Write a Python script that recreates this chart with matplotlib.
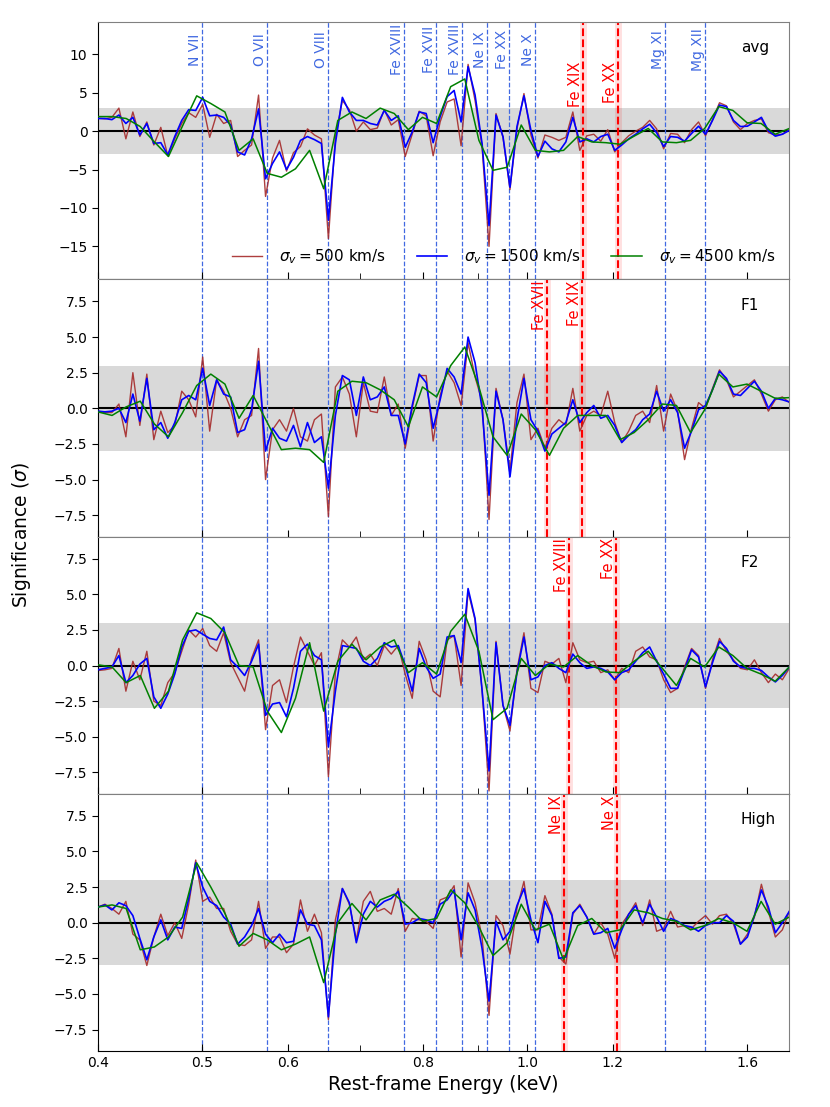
import numpy as np
import matplotlib
matplotlib.use("Agg")
import matplotlib.pyplot as plt
from matplotlib.ticker import NullFormatter, FixedLocator

# energy grids (keV), log-spaced like the spectrum bins
energy_fine = np.geomspace(0.4, 1.75, 100)
energy_coarse = np.geomspace(0.4, 1.75, 50)

# ---- avg ----
avg_500 = [1.7, 1.6, 1.8, 3.0, -1.0, 2.5, -0.7, 1.2, -1.8, 0.5,
           -3.2, -1.0, 1.0, 2.4, 1.8, 3.5, -0.8, 2.2, 1.0, 1.4,
           -3.3, -2.5, -1.8, 4.7, -8.5, -3.5, -1.2, -5.2, -2.8, -2.0,
           0.3, -0.5, -1.0, -14.0, -0.8, 4.0, 2.8, 0.0, 1.2, 0.2,
           0.4, 2.8, 0.8, 1.5, -3.3, -0.4, 2.6, 2.0, -3.2, 1.2,
           3.8, 4.2, -1.9, 8.7, 4.0, -2.0, -15.0, 2.3, -0.8, -7.6,
           0.3, 4.9, -0.5, -3.5, -0.5, -0.8, -1.2, -0.8, 2.5, -2.5,
           -0.6, -0.4, -1.3, 0.2, -2.7, -1.5, -0.6, 0.0, 0.5, 1.4,
           0.3, -2.3, -0.3, -0.4, -1.5, 0.2, 1.2, -0.6, 1.5, 3.7,
           3.3, 1.2, 0.2, 1.0, 1.4, 1.6, -0.2, -0.5, -0.4, 0.2]
avg_1500 = [1.65, 1.65, 1.5, 2.1, 1.0, 1.8, -0.5, 1.0, -1.6, -1.5,
            -3.1, -0.7, 1.4, 2.8, 2.7, 4.4, 2.0, 2.1, 1.8, 0.8,
            -2.7, -3.1, -1.0, 2.9, -6.2, -4.2, -2.7, -5.0, -3.4, -1.2,
            -0.7, -1.1, -1.6, -11.6, -1.6, 4.4, 2.5, 1.4, 1.4, 1.0,
            0.8, 2.7, 1.4, 2.0, -2.1, -0.1, 2.5, 2.3, -1.5, 1.9,
            4.5, 5.3, 1.2, 8.4, 4.7, -1.6, -12.3, 2.1, -0.7, -7.3,
            0.6, 4.6, 0.1, -3.3, -1.3, -2.3, -2.7, -1.4, 1.8, -1.4,
            -1.0, -1.4, -0.7, -0.4, -2.5, -1.8, -1.0, -0.4, 0.3, 0.9,
            -0.2, -2.0, -0.7, -0.8, -1.3, -0.3, 0.65, -0.4, 1.4, 3.4,
            3.2, 1.4, 0.6, 0.65, 1.2, 1.8, 0.05, -0.65, -0.4, 0.1]
avg_4500 = [1.9, 1.9, 1.65, 0.6, -1.4, -3.3, 0.7, 4.6, 3.6, 2.5,
            -2.5, -1.0, -5.5, -6.0, -4.9, -2.5, -7.5, 1.4, 2.5, 1.65,
            3.0, 2.3, 0.2, 1.8, 1.0, 5.8, 6.8, -1.2, -5.1, -4.7,
            0.8, -2.5, -2.7, -2.5, -0.7, -1.4, -1.5, -1.7, -0.65, 0.35,
            -1.4, -1.5, -1.2, 0.35, 3.2, 2.7, 1.1, 1.0, -0.4, 0.35]

# ---- F1 ----
f1_500 = [-0.2, -0.3, -0.3, 0.3, -2.0, 2.5, -1.2, 2.4, -2.2, -0.2,
          -1.7, -1.2, 1.2, 0.6, -0.6, 3.6, -1.6, 2.0, 1.2, 0.0,
          -2.0, -0.8, -0.5, 4.2, -5.0, -1.5, -0.8, -1.6, 0.0, -2.0,
          -2.3, -0.8, -0.4, -7.6, 1.5, 2.2, 1.0, -2.0, 1.8, -0.2,
          -0.3, 2.2, -0.5, 0.3, -2.8, 0.0, 2.3, 2.3, -2.3, 0.9,
          2.6, 1.8, 0.2, 4.6, 2.2, 0.5, -7.8, 1.4, -0.8, -4.4,
          0.4, 2.4, -2.2, -1.4, -2.8, -1.4, -0.8, -1.2, 1.4, -1.6,
          -0.5, -0.2, -0.5, 1.2, -1.0, -2.4, -1.6, -0.5, -0.2, -1.0,
          1.6, -1.6, 1.0, -0.2, -3.6, -1.4, 0.4, 0.0, 1.4, 2.7,
          2.0, 0.8, 1.2, 1.6, 2.0, 1.0, -0.2, 0.6, 0.8, 0.4]
f1_1500 = [-0.2, -0.25, -0.2, 0.0, -1.0, 1.0, -0.9, 2.1, -1.5, -1.0,
           -2.1, -1.0, 0.6, 0.9, 0.6, 2.8, 0.2, 2.0, 1.0, 0.8,
           -1.7, -1.5, -0.1, 3.3, -3.0, -1.4, -2.1, -2.3, -1.2, -2.7,
           -1.0, -2.4, -2.0, -5.6, -0.5, 2.3, 2.0, -0.5, 2.2, 0.6,
           0.8, 1.5, -0.5, -0.5, -2.5, 0.2, 2.4, 1.8, -1.4, 0.6,
           2.8, 2.2, 1.0, 5.0, 3.2, 0.0, -6.1, 1.2, -0.8, -4.8,
           -0.8, 2.1, -0.8, -1.6, -3.0, -1.8, -1.4, -1.0, 0.6, -1.0,
           -0.3, 0.2, -0.7, -0.5, -1.2, -2.4, -1.9, -1.5, -0.8, -0.4,
           1.2, -0.2, 0.6, -0.3, -2.8, -1.6, -0.1, 0.2, 1.3, 2.6,
           2.1, 1.0, 0.9, 1.4, 1.9, 1.2, 0.0, 0.7, 0.6, 0.45]
f1_4500 = [-0.25, -0.5, 0.1, 0.5, -1.1, -2.0, -0.3, 1.6, 2.4, 1.7,
           -0.7, 0.9, -1.0, -2.9, -2.8, -2.9, -3.8, 1.2, 1.9, 1.8,
           1.3, 0.6, -1.3, 1.5, 0.8, 3.0, 4.3, 1.5, -2.0, -3.3,
           -0.4, -1.5, -3.3, -1.4, -0.5, -0.5, -0.5, -2.2, -1.7, -0.8,
           0.3, 0.2, -1.7, -0.1, 2.4, 1.5, 1.7, 1.2, 0.7, 0.75]

# ---- F2 ----
f2_500 = [-0.35, -0.3, -0.2, 1.2, -1.8, 0.3, -1.0, 1.0, -2.5, -2.8,
          -1.2, -0.5, 1.0, 2.5, 2.0, 2.6, 1.4, 1.0, 2.3, 0.2,
          -0.8, -1.8, 0.5, 1.8, -4.5, -1.4, -1.0, -2.6, -0.1, 2.0,
          1.0, 0.0, 0.9, -7.8, -0.5, 1.8, 1.3, 2.0, 0.4, 0.8,
          0.0, 1.4, 0.8, 1.4, -0.6, -2.3, 1.7, 0.4, -1.8, -2.2,
          1.8, 2.1, -1.4, 5.2, 3.2, -1.7, -8.8, 1.7, -2.8, -4.6,
          -0.3, 2.3, -1.6, -1.9, 0.3, 0.1, 0.5, -1.2, 1.6, 0.4,
          0.2, 0.3, -0.5, -0.3, -1.0, -0.2, -0.5, 1.0, 1.3, 0.6,
          0.4, -1.0, -1.9, -1.6, -0.1, 1.2, 0.7, -1.6, 0.4, 1.9,
          1.0, 0.4, -0.2, -0.3, 0.4, -0.5, -1.2, -0.6, -1.0, -0.2]
f2_1500 = [-0.3, -0.2, -0.1, 0.7, -1.2, -0.7, 0.1, 0.5, -2.2, -3.0,
           -2.0, -0.6, 1.3, 2.4, 2.5, 2.2, 1.9, 1.8, 2.7, 0.4,
           -0.1, -0.7, 0.3, 1.5, -3.5, -2.7, -2.6, -3.6, -1.6, 1.0,
           1.5, 0.7, 0.4, -5.7, -1.8, 1.4, 1.3, 1.2, 0.3, 0.0,
           0.5, 1.6, 1.3, 1.4, 0.0, -1.8, 1.2, -0.1, -0.9, -0.6,
           2.0, 2.1, 0.2, 5.4, 3.3, -1.7, -7.4, 1.6, -2.8, -4.2,
           -0.5, 2.0, -1.0, -0.8, 0.0, 0.2, -0.2, -0.5, 0.8, 0.2,
           -0.2, -0.1, -0.2, -0.45, -1.0, -0.5, -0.3, 0.3, 0.9, 1.3,
           0.3, -0.6, -1.6, -1.6, -0.3, 1.1, 0.6, -1.5, 0.2, 1.7,
           1.2, 0.3, -0.1, -0.2, -0.2, -0.35, -0.8, -1.15, -0.7, -0.1]
f2_4500 = [0.05, -0.1, -1.2, -0.7, -3.0, -1.8, 1.8, 3.7, 3.3, 2.3,
           0.0, -0.1, -3.2, -4.7, -2.3, 1.6, -3.2, 0.3, 1.5, 0.4,
           1.3, 1.8, -0.5, 0.2, -0.6, 2.4, 3.6, 1.0, -3.8, -3.0,
           0.5, -0.7, 0.1, -0.1, 0.7, 0.0, -0.45, -0.5, 0.3, 1.0,
           -0.2, -1.4, 0.5, -0.1, 1.3, 0.7, -0.2, -0.6, -1.1, -0.1]

# ---- High ----
high_500 = [1.1, 1.3, 1.0, 0.6, 1.5, -0.8, -1.2, -3.0, -1.0, 0.6,
            -0.9, 0.0, -1.1, 1.3, 4.4, 1.5, 1.8, 1.0, 1.0, -0.6,
            -1.5, -1.6, -1.2, 1.5, -1.8, -1.0, -1.0, -2.1, -1.5, 1.6,
            -0.6, 0.6, -0.7, -6.8, 0.2, 2.4, 1.3, -1.2, 1.5, 2.2,
            0.8, 1.0, 0.6, 2.4, -0.6, 0.3, 0.2, 0.1, -0.4, 1.6,
            1.8, 2.6, -2.4, 2.8, 1.4, -1.0, -6.5, 0.5, -0.2, -2.2,
            1.0, 2.9, -0.5, -0.5, 1.9, 0.6, -2.4, -2.9, 0.6, 1.3,
            0.4, -0.8, 0.0, -0.8, -2.5, -0.1, 0.6, 1.4, -0.2, 1.6,
            -0.6, -0.4, 0.8, -0.3, -0.2, -0.4, 0.1, 0.5, -0.1, 0.5,
            0.6, -0.1, -1.5, -0.8, 0.4, 2.7, 0.8, -1.0, -0.5, 0.8]
high_1500 = [1.1, 1.25, 0.9, 1.4, 1.2, 0.5, -1.1, -2.6, -1.0, 0.2,
             -1.2, -0.3, -0.4, 1.7, 4.2, 2.5, 1.5, 1.2, 0.4, -0.1,
             -1.5, -1.0, -0.2, 1.0, -0.8, -1.4, -0.8, -1.4, -1.3, 0.9,
             -0.1, -0.2, -1.2, -6.6, -0.8, 2.4, 1.4, -1.4, 0.6, 1.5,
             1.1, 1.5, 1.7, 2.2, -0.1, 0.0, 0.3, 0.2, 0.0, 1.3,
             1.6, 2.3, -1.2, 2.1, 0.9, -1.8, -5.5, 0.1, -1.2, -0.6,
             1.2, 2.4, 0.2, -1.4, 1.5, 0.5, -2.5, -2.4, 0.7, 1.2,
             0.4, -0.8, -0.7, -0.4, -1.8, -0.5, 0.6, 1.2, 0.0, 1.3,
             0.4, -0.6, 0.3, 0.1, -0.2, -0.3, -0.6, -0.2, 0.0, 0.0,
             0.5, 0.1, -1.5, -1.0, 0.5, 2.3, 1.1, -0.7, 0.0, 0.8]
high_4500 = [1.1, 1.25, 1.0, -1.9, -1.7, -1.0, 0.4, 4.2, 2.5, 0.65,
             -1.65, -0.75, -1.2, -1.9, -1.5, -1.0, -4.2, 0.0, 1.35, 0.2,
             1.6, 2.0, 1.1, 0.1, 0.3, 2.3, 1.4, -0.3, -2.3, -1.4,
             1.3, -0.5, -0.1, -2.6, -0.2, 0.3, -0.7, -0.5, 0.9, 0.7,
             0.3, 0.1, -0.5, -0.2, 0.3, 0.0, -0.6, 1.5, -0.1, 0.4]

# line identifications
line_names = ['N VII', 'O VII', 'O VIII', 'Fe XVIII', 'Fe XVII', 'Fe XVIII',
              'Ne IX', 'Fe XX', 'Ne X', 'Mg XI', 'Mg XII']
line_energies = [0.500, 0.574, 0.653, 0.769, 0.823, 0.870,
                 0.918, 0.962, 1.017, 1.342, 1.462]

panel_names = ['avg', 'F1', 'F2', 'High']
red_names = [['Fe XIX', 'Fe XX'], ['Fe XVII', 'Fe XIX'],
             ['Fe XVIII', 'Fe XX'], ['Ne IX', 'Ne X']]
red_energies = [[1.127, 1.214], [1.044, 1.124],
                [1.093, 1.208], [1.081, 1.211]]

curves = [(avg_500, avg_1500, avg_4500),
          (f1_500, f1_1500, f1_4500),
          (f2_500, f2_1500, f2_4500),
          (high_500, high_1500, high_4500)]

xticks = [0.4, 0.5, 0.6, 0.8, 1.0, 1.2, 1.6]
xticklabels = ['0.4', '0.5', '0.6', '0.8', '1.0', '1.2', '1.6']

fig, axes = plt.subplots(4, 1, figsize=(8.3, 11.07), dpi=100, sharex=True)
fig.subplots_adjust(left=0.118, right=0.951, top=0.980, bottom=0.0506, hspace=0)

for k, ax in enumerate(axes):
    r, b, g = curves[k]
    ax.axhspan(-3, 3, color='#d9d9d9', lw=0, zorder=0)
    ax.axhline(0, color='k', lw=1.5, zorder=1)
    for e in line_energies:
        ax.axvline(e, color='#4169e1', ls='--', lw=0.9, zorder=1)
    for e in red_energies[k]:
        ax.axvline(e, color='red', lw=5, alpha=0.12, zorder=1)
        ax.axvline(e, color='red', ls='--', lw=1.5, zorder=1)

    ax.plot(energy_fine, r, color='brown', lw=1.0, alpha=0.9, zorder=2,
            label=r'$\sigma_v = 500$ km/s')
    ax.plot(energy_fine, b, color='blue', lw=1.2, zorder=3,
            label=r'$\sigma_v = 1500$ km/s')
    ax.plot(energy_coarse, g, color='green', lw=1.1, zorder=4,
            label=r'$\sigma_v = 4500$ km/s')

    if k == 0:
        ax.set_ylim(-19.3, 14.2)
        ax.set_yticks([-15, -10, -5, 0, 5, 10])
        for name, e in zip(line_names, line_energies):
            ax.text(e, 10.6, name, color='#4169e1', rotation=90, fontsize=10,
                    ha='right', va='center')
        ax.legend(loc='lower right', ncol=3, frameon=False, fontsize=11,
                  handletextpad=1.1, columnspacing=2.0)
    else:
        ax.set_ylim(-9.0, 9.05)
        ax.set_yticks([-7.5, -5.0, -2.5, 0.0, 2.5, 5.0, 7.5])

    for name, e in zip(red_names[k], red_energies[k]):
        ax.text(e, 9.0 if k == 0 else 8.95, name, color='red', rotation=90,
                fontsize=10.5, ha='right', va='top')

    ax.text(0.93, 0.9, panel_names[k], transform=ax.transAxes, fontsize=11,
            ha='left', va='center')

    ax.set_xscale('log')
    ax.set_xlim(0.4, 1.75)
    ax.xaxis.set_major_locator(FixedLocator(xticks))
    ax.set_xticklabels(xticklabels)
    ax.xaxis.set_minor_formatter(NullFormatter())
    ax.tick_params(axis='x', which='both', direction='in', top=False, labelsize=10)
    ax.tick_params(axis='x', which='major', length=5)
    ax.tick_params(axis='x', which='minor', length=4)
    ax.tick_params(axis='y', direction='out', right=False, labelsize=10, length=4)
    ax.spines['top'].set_color('grey')
    ax.spines['right'].set_color('grey')

axes[-1].set_xlabel('Rest-frame Energy (keV)', fontsize=13.5)
fig.text(0.0265, 0.517, r'Significance ($\sigma$)', rotation=90,
         ha='center', va='center', fontsize=13.5)

fig.savefig('out.png', dpi=100)
